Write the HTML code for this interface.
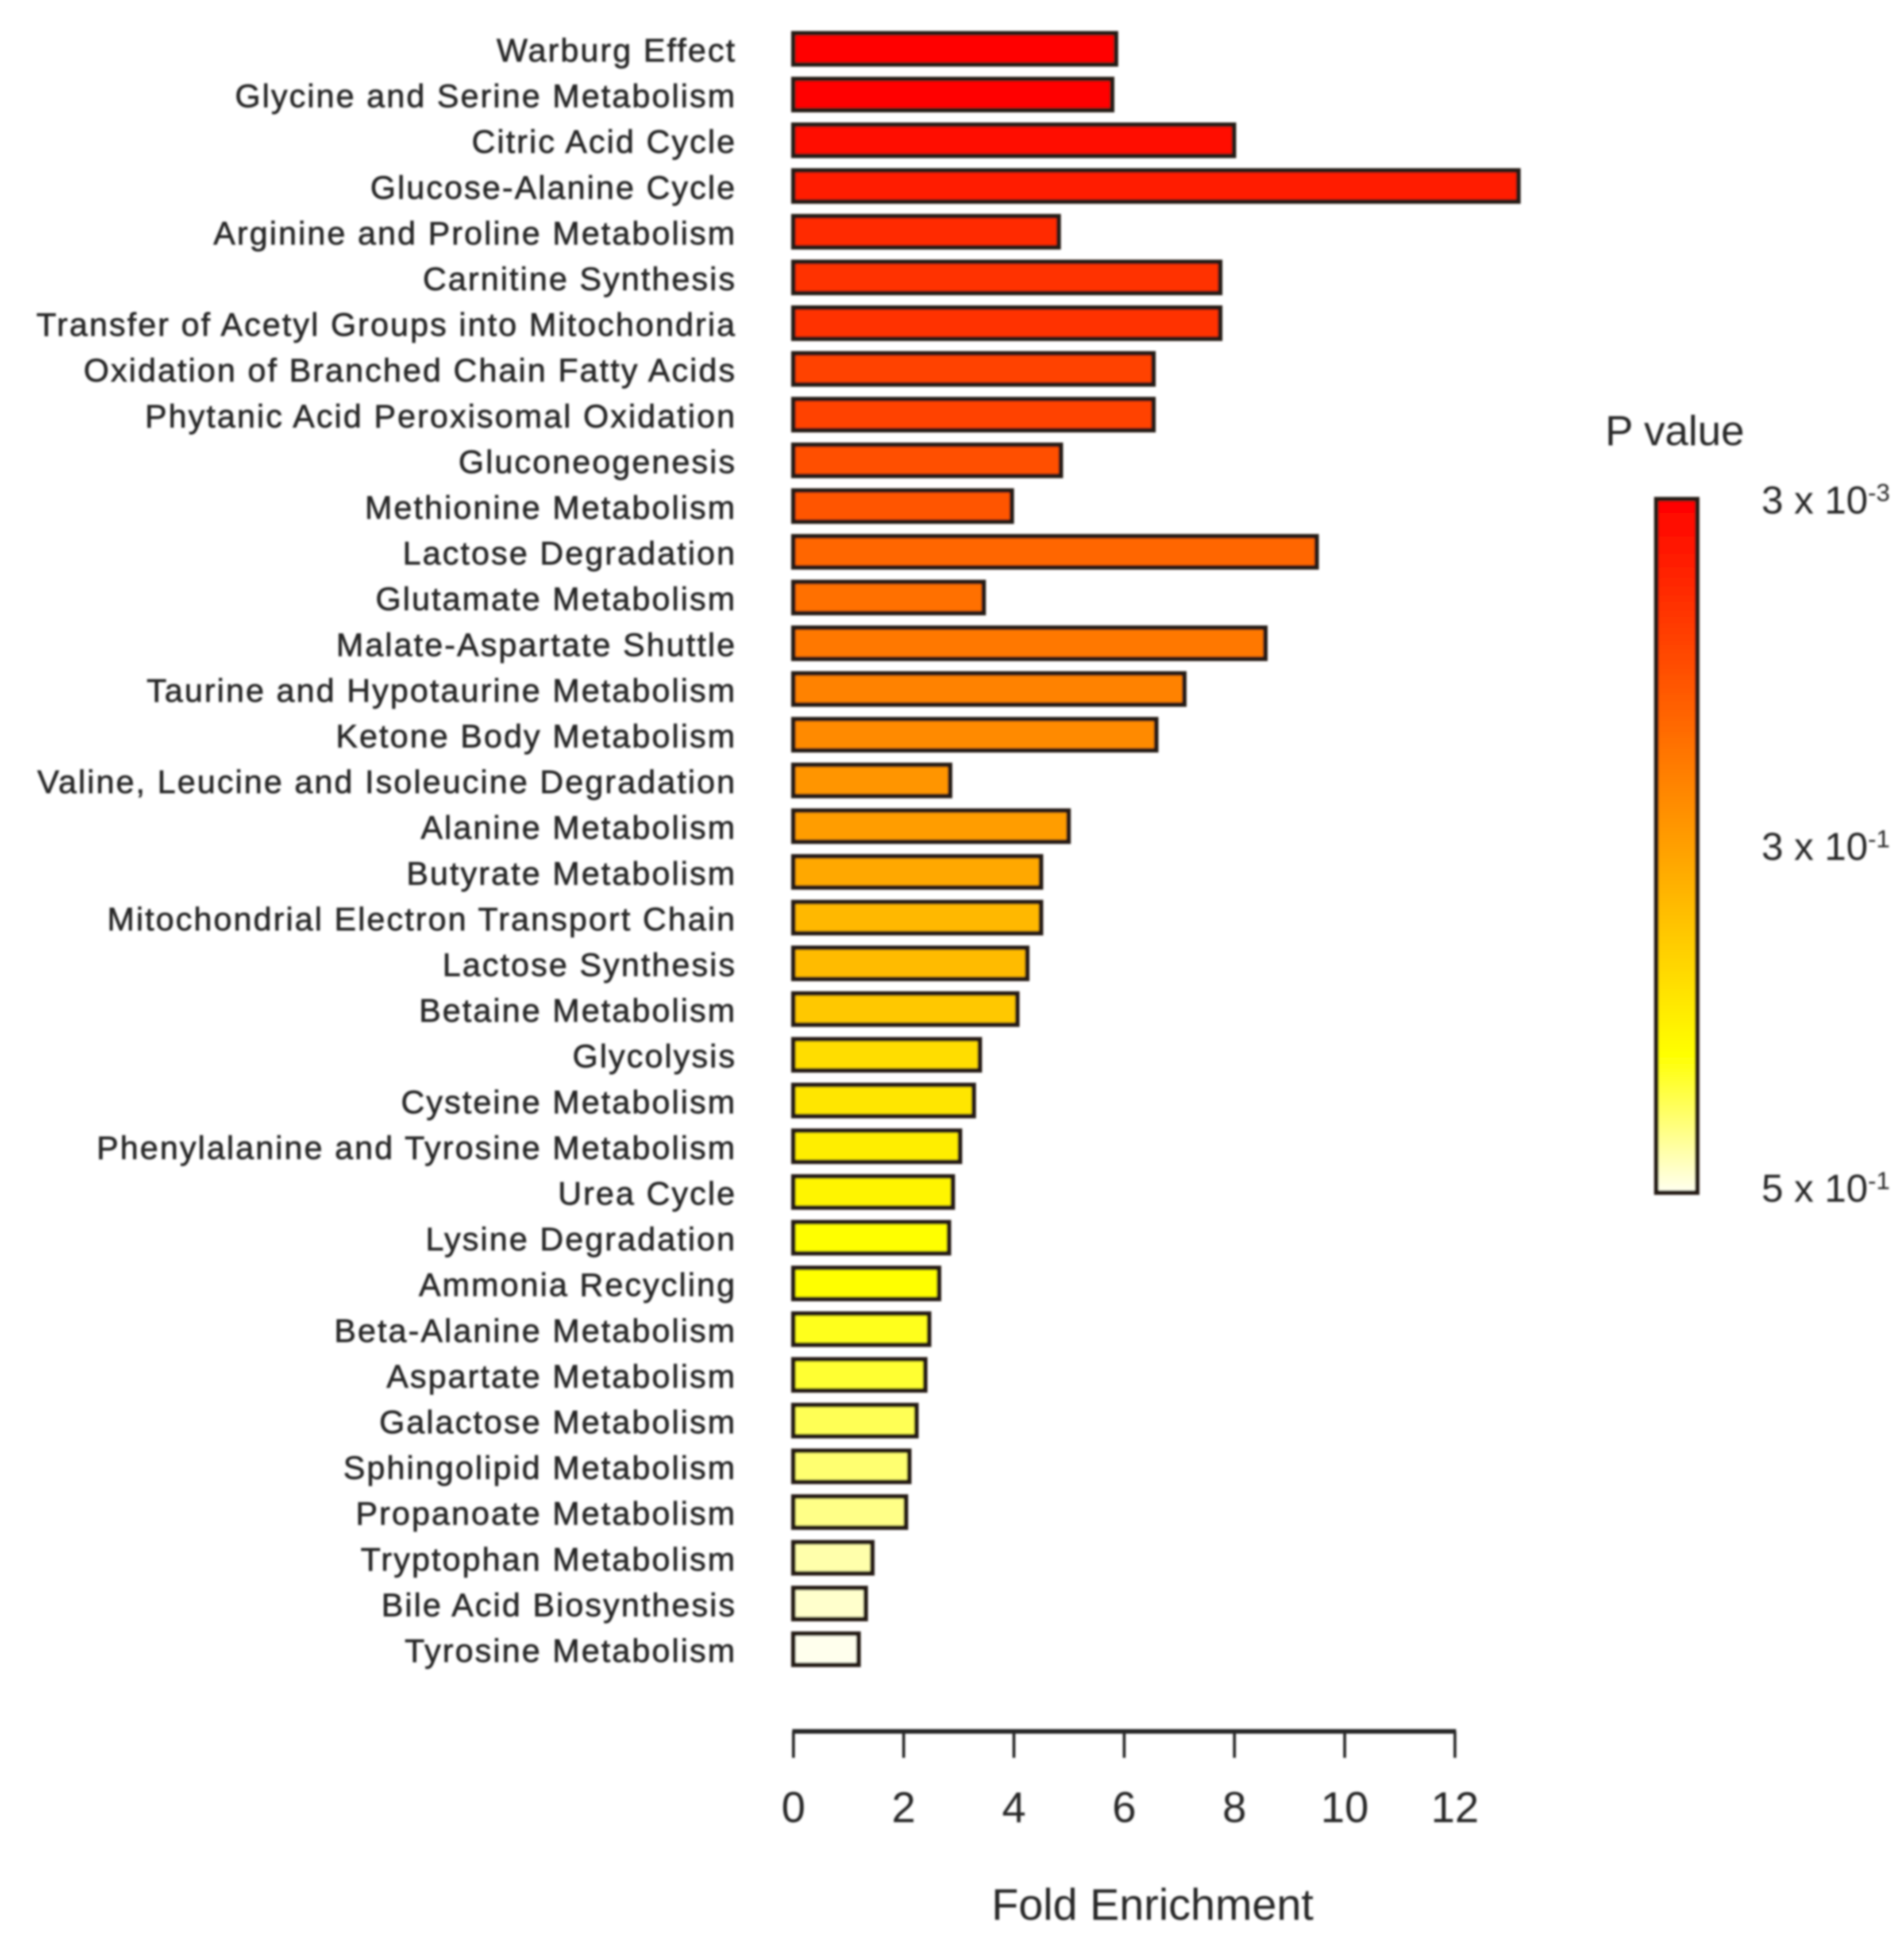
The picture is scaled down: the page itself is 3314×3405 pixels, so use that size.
<!DOCTYPE html>
<html lang="en">
<head>
<meta charset="utf-8">
<title>Fold Enrichment by Pathway</title>
<style>
html,body{margin:0;padding:0;background:#fff;}
svg{display:block;}
text{font-family:"Liberation Sans",sans-serif;fill:#262626;}
</style>
</head>
<body>
<svg id="chart" xmlns="http://www.w3.org/2000/svg" width="3314" height="3405" viewBox="0 0 3314 3405">
<defs>
<filter id="soft" x="-5%" y="-5%" width="110%" height="110%"><feGaussianBlur stdDeviation="1.8"/></filter>
<linearGradient id="legend-gradient" x1="0" y1="0" x2="0" y2="1"></linearGradient>
</defs>
<g id="plot" filter="url(#soft)"></g>
</svg>
<script>
const categories = ["Warburg Effect","Glycine and Serine Metabolism","Citric Acid Cycle","Glucose-Alanine Cycle","Arginine and Proline Metabolism","Carnitine Synthesis","Transfer of Acetyl Groups into Mitochondria","Oxidation of Branched Chain Fatty Acids","Phytanic Acid Peroxisomal Oxidation","Gluconeogenesis","Methionine Metabolism","Lactose Degradation","Glutamate Metabolism","Malate-Aspartate Shuttle","Taurine and Hypotaurine Metabolism","Ketone Body Metabolism","Valine, Leucine and Isoleucine Degradation","Alanine Metabolism","Butyrate Metabolism","Mitochondrial Electron Transport Chain","Lactose Synthesis","Betaine Metabolism","Glycolysis","Cysteine Metabolism","Phenylalanine and Tyrosine Metabolism","Urea Cycle","Lysine Degradation","Ammonia Recycling","Beta-Alanine Metabolism","Aspartate Metabolism","Galactose Metabolism","Sphingolipid Metabolism","Propanoate Metabolism","Tryptophan Metabolism","Bile Acid Biosynthesis","Tyrosine Metabolism"];
const foldEnrichment = [5.85,5.78,7.99,13.15,4.81,7.74,7.74,6.53,6.53,4.85,3.96,9.49,3.45,8.56,7.09,6.58,2.84,4.99,4.49,4.49,4.24,4.06,3.38,3.27,3.02,2.89,2.82,2.64,2.46,2.39,2.23,2.1,2.04,1.43,1.31,1.18];
const pValues = [0.003,0.003,0.00475,0.0063,0.0101,0.0131,0.0131,0.021,0.021,0.03,0.035,0.057,0.076,0.096,0.129,0.163,0.22,0.28,0.311,0.331,0.335,0.351,0.377,0.389,0.399,0.408,0.42,0.42,0.429,0.437,0.448,0.457,0.465,0.477,0.488,0.499];
const xTicks = [0,2,4,6,8,10,12];

const NS = "http://www.w3.org/2000/svg";
const plot = document.getElementById("plot");

function el(tag, parent) {
  const node = document.createElementNS(NS, tag);
  parent.appendChild(node);
  return node;
}

// Axis scales
const xOrigin = 1381, xPerUnit = 95.95;
const firstRowY = 85, rowStep = 79.6, barHeight = 54;
function xScale(v) { return xOrigin + v * xPerUnit; }
function yScale(i) { return firstRowY + i * rowStep; }

// P value -> position along colour bar (0 top, 1 bottom)
function pToPos(p) {
  if (p <= 0.3) return Math.log10(p / 0.003) / 4;
  return 0.5 + (p - 0.3) / 0.4;
}
// Position -> heat colour
function heatColor(t) {
  const g = Math.min(255, Math.max(0, Math.round(t / 0.8 * 255)));
  const b = t <= 0.8 ? 0 : Math.min(240, Math.round((t - 0.8) / 0.2 * 240));
  return "rgb(255," + g + "," + b + ")";
}

// Bars and category labels
categories.forEach(function (name, i) {
  const y = yScale(i);
  const bar = el("rect", plot);
  
  
  bar.setAttribute("x", xScale(0));
  bar.setAttribute("y", y - barHeight / 2);
  bar.setAttribute("width", xScale(foldEnrichment[i]) - xScale(0));
  bar.setAttribute("height", barHeight);
  bar.setAttribute("fill", heatColor(pToPos(pValues[i])));
  bar.setAttribute("stroke", "#261c14");
  bar.setAttribute("stroke-width", "8");

  const label = el("text", plot);
  
  
  label.setAttribute("x", 1282);
  label.setAttribute("y", y + 22);
  label.setAttribute("text-anchor", "end");
  label.setAttribute("font-size", "57");
  label.setAttribute("letter-spacing", "2.9");
  label.setAttribute("stroke", "#262626");
  label.setAttribute("stroke-width", "0.9");
  label.textContent = name;
});

// X axis
const axisY = 3014, tickEnd = 3060;
const axisLine = el("line", plot);


axisLine.setAttribute("x1", xScale(xTicks[0]) - 2);
axisLine.setAttribute("x2", xScale(xTicks[xTicks.length - 1]) + 2);
axisLine.setAttribute("y1", axisY);
axisLine.setAttribute("y2", axisY);
axisLine.setAttribute("stroke", "#262626");
axisLine.setAttribute("stroke-width", "8");

xTicks.forEach(function (t) {
  const tick = el("line", plot);
  
  
  tick.setAttribute("x1", xScale(t));
  tick.setAttribute("x2", xScale(t));
  tick.setAttribute("y1", axisY);
  tick.setAttribute("y2", tickEnd);
  tick.setAttribute("stroke", "#262626");
  tick.setAttribute("stroke-width", "5");

  const tl = el("text", plot);
  
  
  tl.setAttribute("x", xScale(t));
  tl.setAttribute("y", 3172);
  tl.setAttribute("text-anchor", "middle");
  tl.setAttribute("font-size", "75");
  tl.textContent = String(t);
});

const xTitle = el("text", plot);


xTitle.setAttribute("x", 2006);
xTitle.setAttribute("y", 3342);
xTitle.setAttribute("text-anchor", "middle");
xTitle.setAttribute("font-size", "77");
xTitle.textContent = "Fold Enrichment";

// Colour legend
const legendX = 2883, legendW = 71, legendTop = 869, legendBottom = 2076;
const gradient = document.getElementById("legend-gradient");
[0, 0.1, 0.2, 0.3, 0.4, 0.5, 0.6, 0.7, 0.8, 0.85, 0.9, 0.95, 1].forEach(function (t) {
  const stop = el("stop", gradient);
  stop.setAttribute("offset", t);
  stop.setAttribute("stop-color", heatColor(t));
});
const legendBar = el("rect", plot);


legendBar.setAttribute("x", legendX);
legendBar.setAttribute("y", legendTop);
legendBar.setAttribute("width", legendW);
legendBar.setAttribute("height", legendBottom - legendTop);
legendBar.setAttribute("fill", "url(#legend-gradient)");
legendBar.setAttribute("stroke", "#261c14");
legendBar.setAttribute("stroke-width", "8");

const legendTitle = el("text", plot);


legendTitle.setAttribute("x", 2915);
legendTitle.setAttribute("y", 775);
legendTitle.setAttribute("text-anchor", "middle");
legendTitle.setAttribute("font-size", "73");
legendTitle.textContent = "P value";

const legendMantissa = ["3", "3", "5"];
const legendExponent = ["-3", "-1", "-1"];
const legendP = [0.003, 0.3, 0.5];
const legendLabelTop = 894, legendLabelBottom = 2092;
legendP.forEach(function (p, i) {
  const y = legendLabelTop + pToPos(p) * (legendLabelBottom - legendLabelTop) + (i === 1 ? 4 : 0);
  const t = el("text", plot);
  
  
  t.setAttribute("x", 3066);
  t.setAttribute("y", y);
  t.setAttribute("font-size", "68");
  t.textContent = legendMantissa[i] + " x 10";
  const s = el("tspan", t);
  
  
  s.setAttribute("font-size", "43");
  s.setAttribute("dy", "-22");
  s.textContent = legendExponent[i];
});
</script>
</body>
</html>
